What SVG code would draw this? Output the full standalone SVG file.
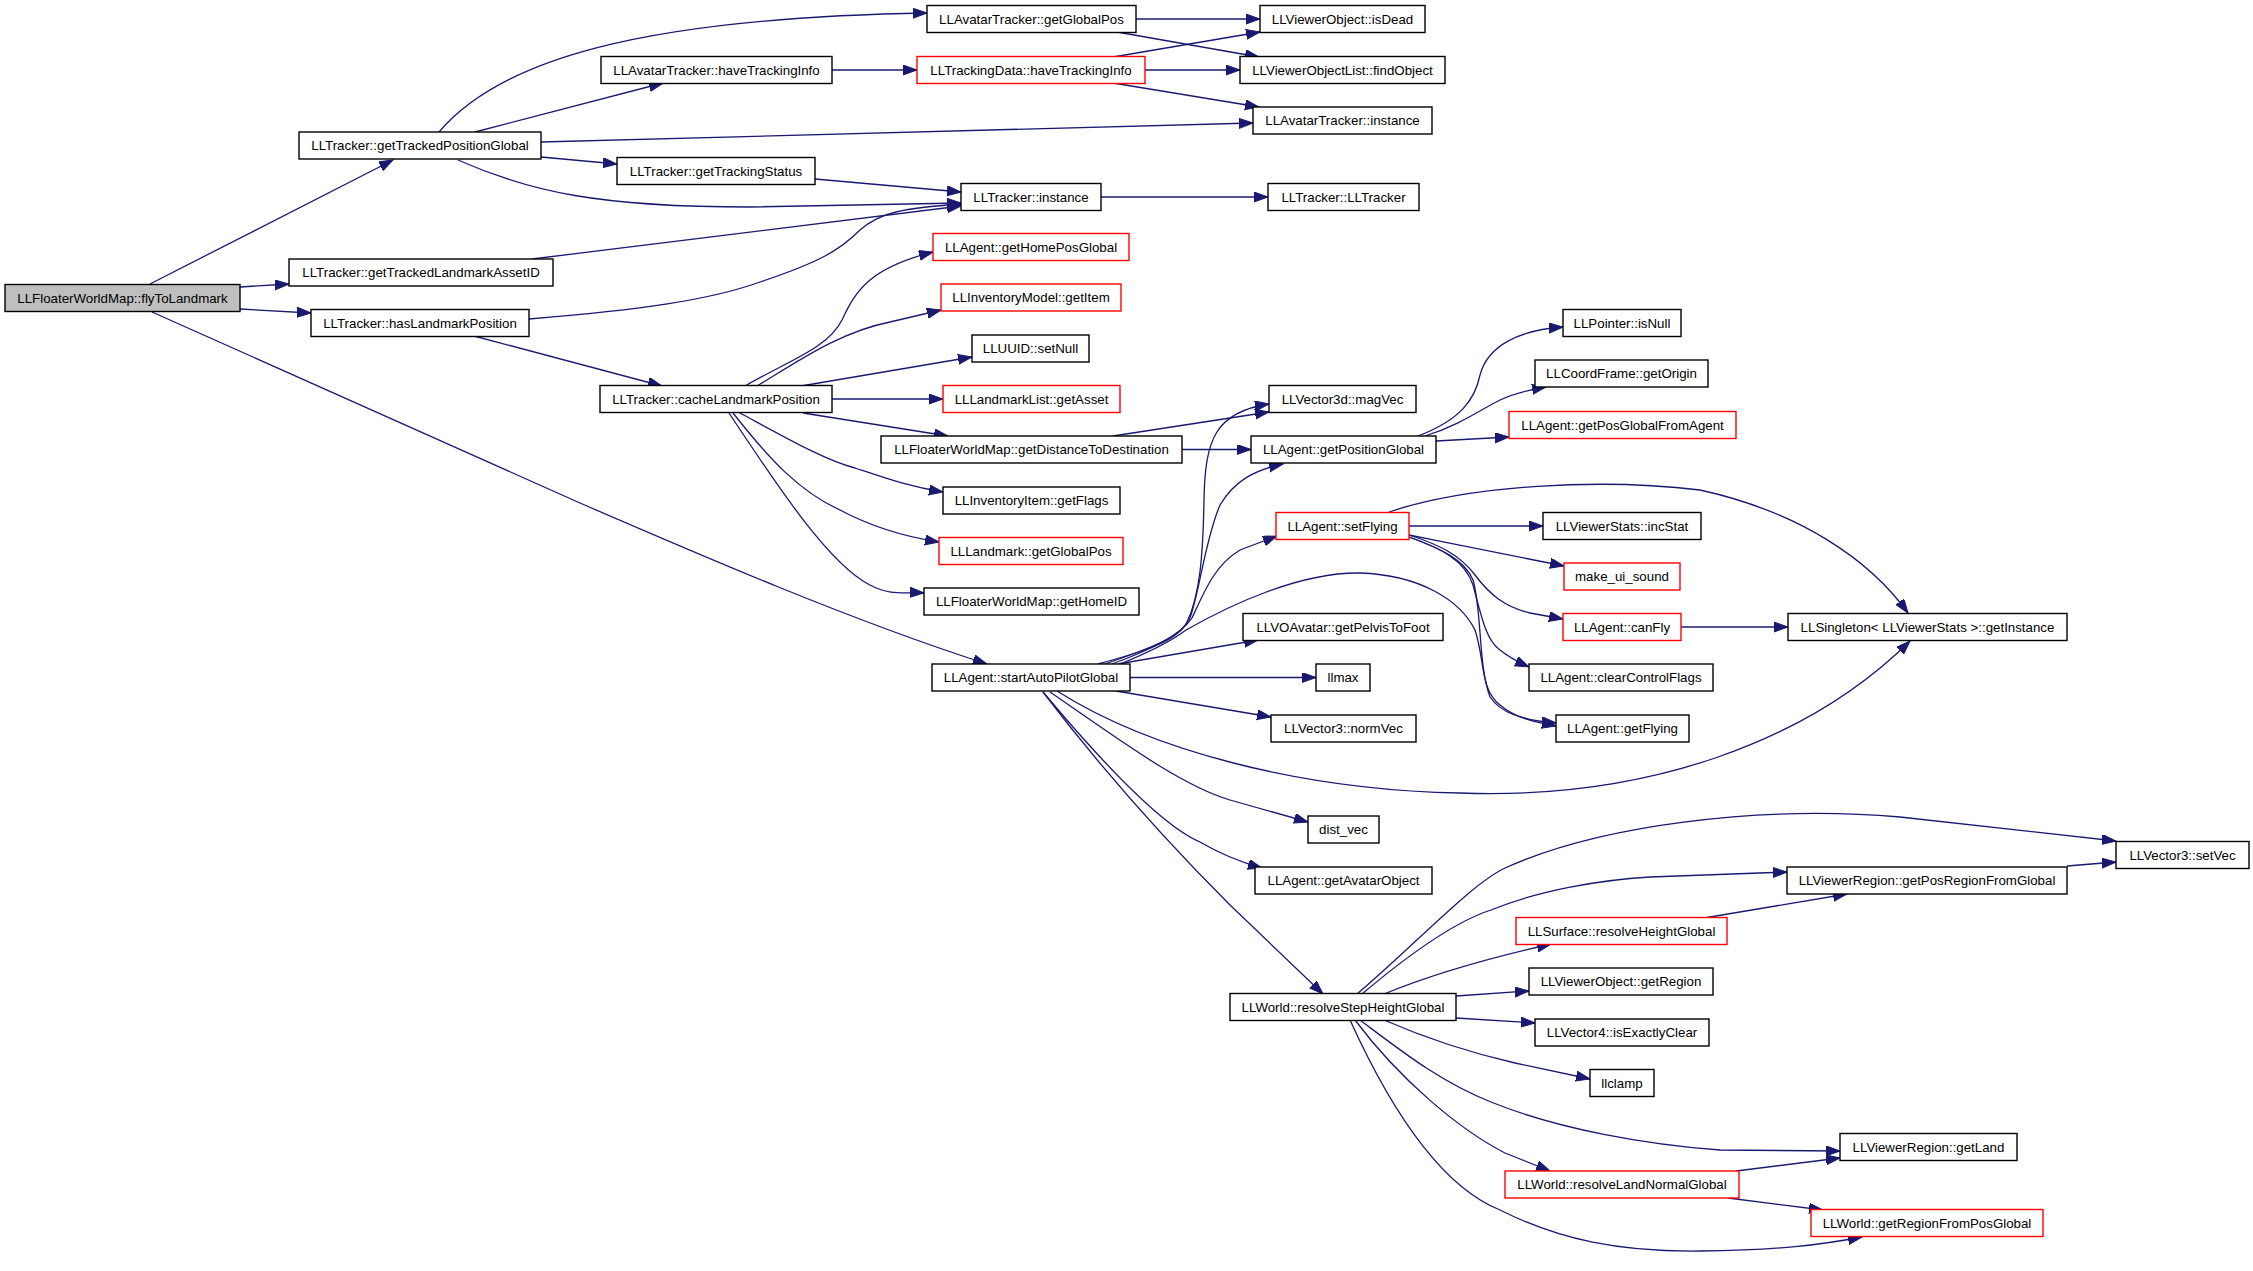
<svg xmlns="http://www.w3.org/2000/svg" width="2253" height="1271" viewBox="0 0 2253 1271">
<defs>
<marker id="a" markerUnits="userSpaceOnUse" markerWidth="16" markerHeight="12" refX="14" refY="5" orient="auto">
<path d="M0,0 L14,5 L0,10 z" fill="#191970" stroke="#191970" stroke-width="1"/>
</marker>
</defs>
<style>
.node rect{fill:#ffffff;stroke:#000000;stroke-width:1.4}
.node.red rect{stroke:#ff0000}
.node.root rect{fill:#bfbfbf}
.node text{font-family:"Liberation Sans",Arial,Helvetica,sans-serif;font-size:13.3px;text-anchor:middle;fill:#000000}
#edges path{fill:none;stroke:#191970;stroke-width:1.3;marker-end:url(#a)}
</style>
<rect x="0" y="0" width="2253" height="1271" fill="#ffffff"/>
<g id="edges">
<path d="M150,284 L393,160"/>
<path d="M240,287 L289,284"/>
<path d="M240,309 L311,313"/>
<path d="M152,312 L580,503 C700,555 850,620 987,664"/>
<path d="M439,132 C500,60 640,18 927,13"/>
<path d="M475,132 L663,83"/>
<path d="M541,142 L1253,123"/>
<path d="M541,157 L617,164"/>
<path d="M458,160 C530,192 600,207 750,207 L961,203"/>
<path d="M1136,19 L1260,19"/>
<path d="M1117,32 L1259,57"/>
<path d="M832,70 L917,70"/>
<path d="M1113,57 L1260,32"/>
<path d="M1145,70 L1240,70"/>
<path d="M1113,83 L1259,107"/>
<path d="M815,179 L961,192"/>
<path d="M532,259 L961,206"/>
<path d="M529,319 C640,310 710,300 760,282 C820,262 840,250 860,230 C880,212 905,208 961,204"/>
<path d="M1101,197 L1268,197"/>
<path d="M474,336 L662,386"/>
<path d="M745,386 C790,360 828,348 842,320 C856,290 870,268 933,252"/>
<path d="M757,386 C800,360 840,332 890,322 L941,310"/>
<path d="M801,386 L972,357"/>
<path d="M832,399 L943,399"/>
<path d="M803,413 L948,436"/>
<path d="M740,413 C790,440 825,460 855,468 C885,478 910,487 943,492"/>
<path d="M733,413 C770,460 800,492 840,510 C870,526 900,536 939,542"/>
<path d="M729,413 C780,490 830,565 870,585 C890,596 905,592 924,593"/>
<path d="M1113,436 L1269,412"/>
<path d="M1182,449.5 L1251,449.5"/>
<path d="M1098,664 C1150,650 1178,640 1187,622 C1200,595 1203,555 1204,500 C1205,440 1215,412 1269,404"/>
<path d="M1105,664 C1160,645 1182,635 1190,618 C1200,590 1205,540 1220,505 C1235,480 1255,470 1283,464"/>
<path d="M1112,664 C1150,650 1180,636 1192,618 C1205,590 1215,565 1240,550 L1277,536"/>
<path d="M1120,664 C1150,652 1170,642 1186,630 C1230,605 1300,572 1360,573 C1420,575 1460,600 1475,630 C1485,660 1480,690 1500,705 C1515,718 1535,722 1556,726"/>
<path d="M1118,664 L1258,640"/>
<path d="M1130,677.5 L1316,677.5"/>
<path d="M1116,691 L1271,717"/>
<path d="M1057,691 C1150,750 1300,790 1460,793 C1650,800 1810,740 1910,641"/>
<path d="M1050,692 C1120,740 1180,785 1230,800 L1308,822"/>
<path d="M1043,692 C1100,760 1160,825 1200,842 C1222,855 1240,862 1262,868"/>
<path d="M1043,692 C1110,780 1170,845 1230,905 L1323,994"/>
<path d="M1389,512 C1470,485 1600,478 1700,490 C1800,512 1870,560 1908,613"/>
<path d="M1409,526 L1543,526"/>
<path d="M1409,535 C1460,545 1510,555 1564,566"/>
<path d="M1409,535 C1440,545 1460,555 1475,575 C1490,595 1505,607 1530,613 L1563,619"/>
<path d="M1409,537 C1440,548 1465,560 1473,585 C1480,610 1485,640 1500,650 C1510,658 1518,662 1529,667"/>
<path d="M1409,537 C1440,548 1465,560 1473,580 C1482,610 1478,665 1490,697 C1500,712 1520,720 1556,723"/>
<path d="M1681,627 L1788,627"/>
<path d="M1418,436 C1460,420 1475,400 1480,375 C1488,345 1520,330 1563,327"/>
<path d="M1425,436 C1460,425 1480,410 1500,400 C1515,393 1528,390 1546,387"/>
<path d="M1436,441 L1509,437"/>
<path d="M1357,994 C1420,940 1470,885 1505,868 C1600,825 1760,805 1900,817 L2116,841"/>
<path d="M1362,994 C1420,945 1460,920 1491,910 C1540,890 1600,880 1650,877 L1787,872"/>
<path d="M1384,994 C1430,975 1480,960 1551,944"/>
<path d="M1456,996 L1529,991"/>
<path d="M1456,1018 L1535,1023"/>
<path d="M1384,1020 C1430,1040 1480,1055 1515,1063 L1590,1079"/>
<path d="M1360,1020 C1400,1050 1440,1082 1491,1102 C1560,1130 1650,1145 1720,1150 L1840,1151"/>
<path d="M1355,1020 C1400,1080 1460,1130 1505,1153 L1550,1171"/>
<path d="M1350,1020 C1400,1130 1450,1190 1500,1210 C1560,1240 1620,1252 1700,1251 C1780,1250 1820,1245 1862,1237"/>
<path d="M1704,918 L1847,894"/>
<path d="M1736,1171 L1840,1158"/>
<path d="M1728,1198 L1823,1210"/>
<path d="M2067,866 L2116,862"/>
</g>
<g id="n0" class="node root"><rect x="5" y="284.5" width="235" height="27"/><text x="122.5" y="302.6">LLFloaterWorldMap::flyToLandmark</text></g>
<g id="n1" class="node"><rect x="299" y="132" width="242" height="27"/><text x="420" y="150.1">LLTracker::getTrackedPositionGlobal</text></g>
<g id="n2" class="node"><rect x="289" y="259" width="264" height="27"/><text x="421" y="277.1">LLTracker::getTrackedLandmarkAssetID</text></g>
<g id="n3" class="node"><rect x="311" y="309.5" width="218" height="27"/><text x="420" y="327.6">LLTracker::hasLandmarkPosition</text></g>
<g id="n4" class="node"><rect x="932" y="664" width="198" height="27"/><text x="1031" y="682.1">LLAgent::startAutoPilotGlobal</text></g>
<g id="n5" class="node"><rect x="927" y="5.5" width="209" height="27"/><text x="1031.5" y="23.6">LLAvatarTracker::getGlobalPos</text></g>
<g id="n6" class="node"><rect x="601" y="56.5" width="231" height="27"/><text x="716.5" y="74.6">LLAvatarTracker::haveTrackingInfo</text></g>
<g id="n7" class="node"><rect x="1253" y="107" width="179" height="27"/><text x="1342.5" y="125.1">LLAvatarTracker::instance</text></g>
<g id="n8" class="node"><rect x="617" y="157.5" width="198" height="27"/><text x="716" y="175.6">LLTracker::getTrackingStatus</text></g>
<g id="n9" class="node"><rect x="961" y="183.5" width="140" height="27"/><text x="1031" y="201.6">LLTracker::instance</text></g>
<g id="n10" class="node"><rect x="1260" y="5.5" width="165" height="27"/><text x="1342.5" y="23.6">LLViewerObject::isDead</text></g>
<g id="n11" class="node"><rect x="1240" y="56.5" width="205" height="27"/><text x="1342.5" y="74.6">LLViewerObjectList::findObject</text></g>
<g id="n12" class="node red"><rect x="917" y="56.5" width="228" height="27"/><text x="1031" y="74.6">LLTrackingData::haveTrackingInfo</text></g>
<g id="n13" class="node"><rect x="1268" y="183.5" width="151" height="27"/><text x="1343.5" y="201.6">LLTracker::LLTracker</text></g>
<g id="n14" class="node"><rect x="600" y="385.5" width="232" height="27"/><text x="716" y="403.6">LLTracker::cacheLandmarkPosition</text></g>
<g id="n15" class="node red"><rect x="933" y="233.5" width="196" height="27"/><text x="1031" y="251.6">LLAgent::getHomePosGlobal</text></g>
<g id="n16" class="node red"><rect x="941" y="284" width="180" height="27"/><text x="1031" y="302.1">LLInventoryModel::getItem</text></g>
<g id="n17" class="node"><rect x="972" y="335" width="117" height="27"/><text x="1030.5" y="353.1">LLUUID::setNull</text></g>
<g id="n18" class="node red"><rect x="943" y="385.5" width="177" height="27"/><text x="1031.5" y="403.6">LLLandmarkList::getAsset</text></g>
<g id="n19" class="node"><rect x="881" y="436" width="301" height="27"/><text x="1031.5" y="454.1">LLFloaterWorldMap::getDistanceToDestination</text></g>
<g id="n20" class="node"><rect x="943" y="487" width="177" height="27"/><text x="1031.5" y="505.1">LLInventoryItem::getFlags</text></g>
<g id="n21" class="node red"><rect x="939" y="537.5" width="184" height="27"/><text x="1031" y="555.6">LLLandmark::getGlobalPos</text></g>
<g id="n22" class="node"><rect x="924" y="588" width="215" height="27"/><text x="1031.5" y="606.1">LLFloaterWorldMap::getHomeID</text></g>
<g id="n23" class="node"><rect x="1269" y="385.5" width="147" height="27"/><text x="1342.5" y="403.6">LLVector3d::magVec</text></g>
<g id="n24" class="node"><rect x="1251" y="436" width="185" height="27"/><text x="1343.5" y="454.1">LLAgent::getPositionGlobal</text></g>
<g id="n25" class="node"><rect x="1563" y="309.5" width="118" height="27"/><text x="1622" y="327.6">LLPointer::isNull</text></g>
<g id="n26" class="node"><rect x="1535" y="360" width="173" height="27"/><text x="1621.5" y="378.1">LLCoordFrame::getOrigin</text></g>
<g id="n27" class="node red"><rect x="1509" y="411.5" width="227" height="27"/><text x="1622.5" y="429.6">LLAgent::getPosGlobalFromAgent</text></g>
<g id="n28" class="node red"><rect x="1276" y="512.5" width="133" height="27"/><text x="1342.5" y="530.6">LLAgent::setFlying</text></g>
<g id="n29" class="node"><rect x="1543" y="512.5" width="158" height="27"/><text x="1622" y="530.6">LLViewerStats::incStat</text></g>
<g id="n30" class="node red"><rect x="1564" y="563" width="116" height="27"/><text x="1622" y="581.1">make_ui_sound</text></g>
<g id="n31" class="node red"><rect x="1563" y="613.5" width="118" height="27"/><text x="1622" y="631.6">LLAgent::canFly</text></g>
<g id="n32" class="node"><rect x="1788" y="613.5" width="279" height="27"/><text x="1927.5" y="631.6">LLSingleton&lt; LLViewerStats &gt;::getInstance</text></g>
<g id="n33" class="node"><rect x="1529" y="664" width="184" height="27"/><text x="1621" y="682.1">LLAgent::clearControlFlags</text></g>
<g id="n34" class="node"><rect x="1556" y="715" width="133" height="27"/><text x="1622.5" y="733.1">LLAgent::getFlying</text></g>
<g id="n35" class="node"><rect x="1243" y="613.5" width="200" height="27"/><text x="1343" y="631.6">LLVOAvatar::getPelvisToFoot</text></g>
<g id="n36" class="node"><rect x="1316" y="664" width="54" height="27"/><text x="1343" y="682.1">llmax</text></g>
<g id="n37" class="node"><rect x="1271" y="715" width="145" height="27"/><text x="1343.5" y="733.1">LLVector3::normVec</text></g>
<g id="n38" class="node"><rect x="1308" y="816" width="71" height="27"/><text x="1343.5" y="834.1">dist_vec</text></g>
<g id="n39" class="node"><rect x="1255" y="867" width="177" height="27"/><text x="1343.5" y="885.1">LLAgent::getAvatarObject</text></g>
<g id="n40" class="node"><rect x="1230" y="993.5" width="226" height="27"/><text x="1343" y="1011.6">LLWorld::resolveStepHeightGlobal</text></g>
<g id="n41" class="node"><rect x="2116" y="841.5" width="133" height="27"/><text x="2182.5" y="859.6">LLVector3::setVec</text></g>
<g id="n42" class="node"><rect x="1787" y="867" width="280" height="27"/><text x="1927" y="885.1">LLViewerRegion::getPosRegionFromGlobal</text></g>
<g id="n43" class="node red"><rect x="1516" y="917.5" width="211" height="27"/><text x="1621.5" y="935.6">LLSurface::resolveHeightGlobal</text></g>
<g id="n44" class="node"><rect x="1529" y="968" width="184" height="27"/><text x="1621" y="986.1">LLViewerObject::getRegion</text></g>
<g id="n45" class="node"><rect x="1535" y="1019" width="174" height="27"/><text x="1622" y="1037.1">LLVector4::isExactlyClear</text></g>
<g id="n46" class="node"><rect x="1590" y="1069.5" width="64" height="27"/><text x="1622" y="1087.6">llclamp</text></g>
<g id="n47" class="node"><rect x="1840" y="1133.5" width="177" height="27"/><text x="1928.5" y="1151.6">LLViewerRegion::getLand</text></g>
<g id="n48" class="node red"><rect x="1505" y="1171" width="234" height="27"/><text x="1622" y="1189.1">LLWorld::resolveLandNormalGlobal</text></g>
<g id="n49" class="node red"><rect x="1811" y="1209.5" width="232" height="27"/><text x="1927" y="1227.6">LLWorld::getRegionFromPosGlobal</text></g>
</svg>
